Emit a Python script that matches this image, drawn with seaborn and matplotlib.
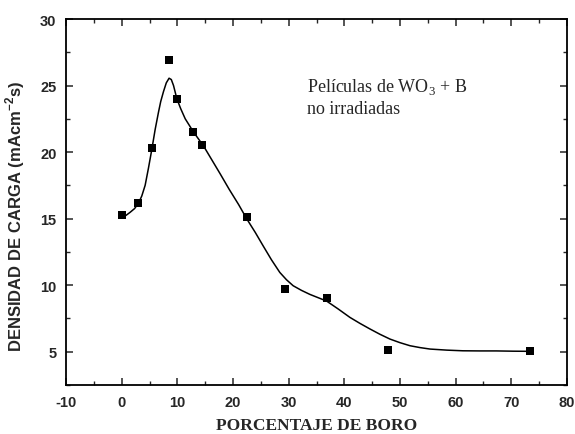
import numpy as np
import pandas as pd
import seaborn as sns
import matplotlib.pyplot as plt
from matplotlib.ticker import MultipleLocator

# measured points
boro_pct = [0.1, 2.9, 5.4, 8.4, 9.9, 12.75, 14.5, 22.5, 29.4, 36.9, 47.9, 73.4]
densidad = [15.3, 16.2, 20.3, 26.9, 24.0, 21.5, 20.55, 15.1, 9.7, 9.05, 5.1, 5.05]

# smooth fitted curve
curve_x = [0.05, 0.8, 1.5, 2.3, 3.0, 3.6, 4.2, 4.8, 5.4, 6.0, 6.6, 7.0, 7.5, 8.0, 8.5,
           8.9, 9.3, 9.9, 10.6, 11.4, 12.9, 14.7, 16.2, 17.7, 19.3, 21.0, 22.5, 24.0,
           25.4, 26.9, 28.4, 29.6, 30.8, 32.3, 33.8, 35.3, 36.8, 38.9, 41.0, 42.8,
           44.6, 46.4, 48.2, 50.0, 51.8, 53.6, 55.4, 58.4, 61.3, 64.3, 67.3, 70.3, 73.3]
curve_y = [15.1, 15.25, 15.47, 15.75, 16.15, 16.7, 17.5, 18.8, 20.2, 21.7, 23.0, 23.8, 24.55, 25.2, 25.55,
           25.45, 25.0, 24.0, 23.25, 22.5, 21.5, 20.45, 19.4, 18.35, 17.2, 16.05, 14.95, 13.95,
           12.95, 11.9, 10.95, 10.4, 9.95, 9.6, 9.3, 9.05, 8.8, 8.2, 7.57, 7.12,
           6.7, 6.3, 5.94, 5.67, 5.44, 5.3, 5.19, 5.11, 5.06, 5.05, 5.05, 5.03, 5.02]

pts = pd.DataFrame({'x': boro_pct, 'y': densidad})
fit = pd.DataFrame({'x': curve_x, 'y': curve_y})

sns.set_style('ticks')
plt.rcParams['axes.unicode_minus'] = False
plt.rcParams['mathtext.fontset'] = 'custom'
plt.rcParams['mathtext.rm'] = 'Liberation Serif'
plt.rcParams['mathtext.bf'] = 'Liberation Sans:bold'
fig = plt.figure(figsize=(5.75, 4.35), dpi=100)
ax = fig.add_axes([0.115, 0.113, 0.871, 0.841])

sns.lineplot(data=fit, x='x', y='y', color='black', linewidth=1.1, sort=False, ax=ax)
sns.scatterplot(data=pts, x='x', y='y', marker='s', s=38, color='black',
                edgecolor='black', linewidth=0, zorder=3, ax=ax)

ax.set_xlim(-10, 80)
ax.set_ylim(2.5, 30)
ax.xaxis.set_major_locator(MultipleLocator(10))
ax.xaxis.set_minor_locator(MultipleLocator(5))
ax.yaxis.set_major_locator(MultipleLocator(5))
ax.yaxis.set_minor_locator(MultipleLocator(2.5))
ax.tick_params(which='both', direction='in', top=True, right=True, labeltop=False, labelright=False)
ax.tick_params(which='major', length=5, width=1.1, pad=7)
ax.tick_params(which='minor', length=3, width=1.0)
for lab in ax.get_xticklabels() + ax.get_yticklabels():
    lab.set_fontfamily('Liberation Sans')
    lab.set_fontweight('bold')
    lab.set_fontsize(10.5)
for sp in ax.spines.values():
    sp.set_linewidth(1.3)
    sp.set_color('black')

ax.set_xlabel('PORCENTAJE DE BORO', fontfamily='Liberation Serif', fontweight='bold',
              fontsize=12.5, labelpad=6)
ax.set_ylabel('DENSIDAD DE CARGA (mAcm$^{\\mathbf{-2}}$s)', fontfamily='Liberation Sans',
              fontweight='bold', fontsize=12)
ax.yaxis.set_label_coords(-0.078, 0.462)

ax.text(33.3, 24.2, 'Películas de WO$_\\mathrm{3}$ + B\nno irradiadas', fontfamily='Liberation Serif',
        fontsize=13, va='center', ha='left', linespacing=1.3)

fig.savefig('out.png', dpi=100)
